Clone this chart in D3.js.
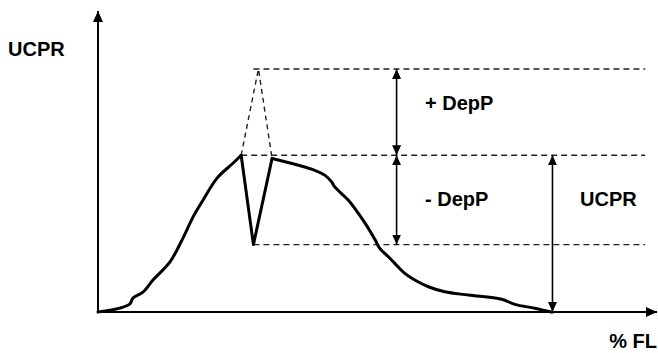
<!DOCTYPE html>
<html>
<head>
<meta charset="utf-8">
<script src="https://cdn.jsdelivr.net/npm/d3@7/dist/d3.min.js"></script>
<style>
  html, body { margin: 0; padding: 0; background: #fff; }
  svg { display: block; }
  text { font-family: "Liberation Sans", Arial, sans-serif; font-weight: bold; fill: #000; }
</style>
</head>
<body>
<script>
// UCPR profile along % FL (peak level = 100)
const profileX = [0, 4.8, 7.0, 7.7, 9.9, 12.1, 15.8, 18.7, 20.9, 23.1, 26.2, 29.7, 31.5,
  34.2, 38.3, 44.1, 47.7, 49.9, 51.4, 52.1, 55.1, 56.5, 58.8, 61.0, 62.0, 63.9, 65.3,
  67.5, 69.7, 72.7, 76.3, 81.5, 88.8, 91.7, 96.1, 99.5, 100];
const profileY = [0, 2.5, 5.1, 8.9, 12.7, 20.4, 31.8, 47.1, 60.5, 71.3, 85.4, 94.9, 100,
  43, 97.9, 93.6, 90.4, 87.3, 83.0, 79.8, 71.3, 66.1, 56.5, 45.9, 40.6, 35.2, 31.0,
  24.6, 20.4, 16.1, 12.9, 10.8, 8.1, 4.9, 2.4, 0.2, 0];
// indices of the left peak, dip and right peak: the curve is sharp there
const leftPeak = 12, rightPeak = 14;

// Reference levels: extrapolated peak, actual peak, dip
const levelNames = ["extrapolated", "peak", "dip"];
const levelValues = [155, 100, 43];
const levelStartX = [34.2, 31.5, 34.2];
const levelEndX = 120.4;

// Extrapolated peak (dashed triangle) across the dip
const triangleX = [31.5, 35.3, 38.3];
const triangleY = [100, 155, 97.9];

// Measurement arrows
const arrowX = [65.7, 65.7, 100];
const arrowFrom = [100, 43, 0];
const arrowTo = [155, 100, 100];

// Axis extents and labels
const xAxisMax = 123;
const yAxisMax = 192;
const axisTitles = ["UCPR", "% FL"];
const bandLabels = ["+ DepP", "- DepP", "UCPR"];

const W = 658, H = 353;
const svg = d3.select("body").append("svg").attr("width", W).attr("height", H);

const x = d3.scaleLinear().domain([0, xAxisMax]).range([98, 657]);
const y = d3.scaleLinear().domain([0, yAxisMax]).range([312, 11]);

const defs = svg.append("defs");
function marker(id, len, wid) {
  defs.append("marker")
    .attr("id", id)
    .attr("viewBox", `0 ${-wid / 2} ${len} ${wid}`)
    .attr("refX", len).attr("refY", 0)
    .attr("markerUnits", "userSpaceOnUse")
    .attr("markerWidth", len).attr("markerHeight", wid)
    .attr("orient", "auto-start-reverse")
    .append("path")
    .attr("d", `M0,${-wid / 2}L${len},0L0,${wid / 2}Z`)
    .attr("fill", "#000");
}
marker("axisHead", 11, 10);
marker("dimHead", 10, 9);

// Axes
svg.append("line")
  .attr("x1", x(0)).attr("y1", y(0)).attr("x2", x(0)).attr("y2", y(yAxisMax))
  .attr("stroke", "#000").attr("stroke-width", 2)
  .attr("marker-end", "url(#axisHead)");
svg.append("line")
  .attr("x1", x(0)).attr("y1", y(0)).attr("x2", x(xAxisMax)).attr("y2", y(0))
  .attr("stroke", "#000").attr("stroke-width", 2)
  .attr("marker-end", "url(#axisHead)");

// Dashed reference levels
svg.append("g").selectAll("line")
  .data(levelValues)
  .join("line")
  .attr("x1", (d, i) => x(levelStartX[i]))
  .attr("x2", x(levelEndX))
  .attr("y1", d => y(d)).attr("y2", d => y(d))
  .attr("stroke", "#222").attr("stroke-width", 1.4)
  .attr("stroke-dasharray", "6,4");

// Dashed extrapolated peak
svg.append("path")
  .datum(d3.zip(triangleX, triangleY))
  .attr("d", d3.line().x(d => x(d[0])).y(d => y(d[1])))
  .attr("fill", "none")
  .attr("stroke", "#222").attr("stroke-width", 1.4)
  .attr("stroke-dasharray", "5,4");

// Profile curve: smooth flanks, sharp notch at the dip
const pts = d3.zip(profileX, profileY);
const smooth = d3.line().x(d => x(d[0])).y(d => y(d[1])).curve(d3.curveCatmullRom.alpha(0.5));
const sharp = d3.line().x(d => x(d[0])).y(d => y(d[1]));
const segments = [
  { pts: pts.slice(0, leftPeak + 1), gen: smooth },
  { pts: pts.slice(leftPeak, rightPeak + 1), gen: sharp },
  { pts: pts.slice(rightPeak), gen: smooth }
];
svg.append("g").selectAll("path")
  .data(segments)
  .join("path")
  .attr("d", d => d.gen(d.pts))
  .attr("fill", "none")
  .attr("stroke", "#000").attr("stroke-width", 3)
  .attr("stroke-linejoin", "round").attr("stroke-linecap", "round");

// Dimension arrows
svg.append("g").selectAll("line")
  .data(arrowX)
  .join("line")
  .attr("x1", d => x(d)).attr("x2", d => x(d))
  .attr("y1", (d, i) => y(arrowFrom[i]))
  .attr("y2", (d, i) => y(arrowTo[i]))
  .attr("stroke", "#000").attr("stroke-width", 1.6)
  .attr("marker-start", "url(#dimHead)")
  .attr("marker-end", "url(#dimHead)");

// Labels
svg.append("text").attr("x", 8).attr("y", 56).attr("font-size", 20).text(axisTitles[0]);
svg.append("text").attr("x", 657).attr("y", 348).attr("font-size", 20)
  .attr("text-anchor", "end").text(axisTitles[1]);

svg.append("text").attr("x", 425).attr("y", 110).attr("font-size", 20).text(bandLabels[0]);
svg.append("text").attr("x", 425).attr("y", 206).attr("font-size", 20).text(bandLabels[1]);
svg.append("text").attr("x", 580).attr("y", 206).attr("font-size", 20).text(bandLabels[2]);
</script>
</body>
</html>
